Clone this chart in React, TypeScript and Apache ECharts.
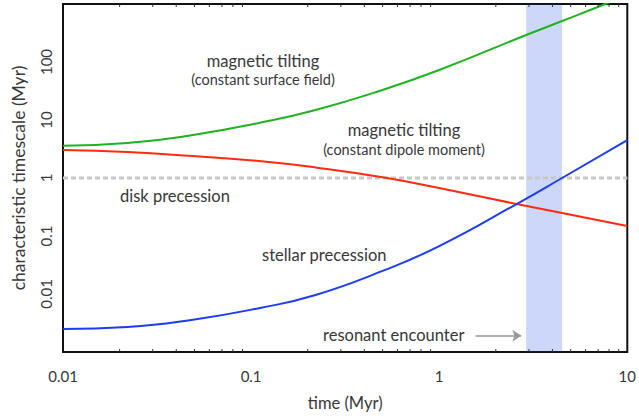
import React, { useEffect, useRef } from "react";
import * as echarts from "echarts";

// time (Myr)
const greenTimes = [0.01, 0.022, 0.049, 0.11, 0.22, 0.5, 1.0, 2.9, 4.5, 7.4, 10];
const greenValues = [3.6, 4.0, 5.5, 8.9, 14.9, 33, 72.8, 292, 509, 961, 1450];

const redTimes = [0.01, 0.022, 0.049, 0.11, 0.22, 0.5, 1.0, 2.58, 4.5, 10];
const redValues = [3.04, 2.81, 2.39, 1.96, 1.52, 1.03, 0.67, 0.356, 0.249, 0.149];

const blueTimes = [0.01, 0.022, 0.049, 0.11, 0.22, 0.5, 1.0, 2.58, 4.5, 10];
const blueValues = [0.0025, 0.0027, 0.0036, 0.0057, 0.0096, 0.025, 0.067, 0.356, 1.0, 4.5];

const diskTimes = [0.01, 10];
const diskValues = [1, 1];

const resonantBand = [2.9, 4.5];
const arrowFrom = [1.56, 0.0019];
const arrowTo = [2.73, 0.0019];

const minorTicks = [
  0.02, 0.03, 0.04, 0.05, 0.06, 0.07, 0.08, 0.09,
  0.2, 0.3, 0.4, 0.5, 0.6, 0.7, 0.8, 0.9,
  2, 3, 4, 5, 6, 7, 8, 9,
];

const xTickLabels: Record<number, string> = { [-2]: "0.01", [-1]: "0.1", 0: "1", 1: "10" };
const yTickLabels: Record<number, string> = { [-2]: "0.01", [-1]: "0.1", 0: "1", 1: "10", 2: "100" };

const FONT = "Lato, 'Open Sans', sans-serif";
const TXT = "#383838";

const pairs = (xs: number[], ys: number[]) => xs.map((x, i) => [x, ys[i]]);

export default function App() {
  const ref = useRef<HTMLDivElement>(null);
  useEffect(() => {
    if (!ref.current) return;
    const chart = echarts.init(ref.current, undefined, { renderer: "svg" });
    const lineBase = {
      type: "line" as const,
      symbol: "none",
      smooth: 0.5,
      clip: true,
    };
    const t16 = `16.5px ${FONT}`;
    const t14 = `14.5px ${FONT}`;
    chart.setOption({
      animation: false,
      backgroundColor: "#ffffff",
      textStyle: { fontFamily: FONT },
      grid: {
        left: 63,
        top: 4,
        right: 11,
        bottom: 66,
        show: true,
        borderColor: "#111",
        borderWidth: 2,
        backgroundColor: "transparent",
      },
      xAxis: {
        type: "log",
        logBase: 10,
        min: 0.01,
        max: 10,
        splitNumber: 3,
        axisLine: { show: false },
        axisTick: { show: false },
        splitLine: { show: false },
        axisLabel: {
          margin: 16,
          color: TXT,
          fontSize: 15,
          fontFamily: FONT,
          formatter: (v: number) => xTickLabels[Math.round(Math.log10(v))] ?? "",
        },
        name: "time (Myr)",
        nameLocation: "middle",
        nameGap: 42,
        nameTextStyle: { color: TXT, fontSize: 16.5, fontFamily: FONT },
      },
      yAxis: {
        type: "log",
        logBase: 10,
        min: 0.001,
        max: 1000,
        splitNumber: 6,
        axisLine: { show: false },
        axisTick: { show: false },
        splitLine: { show: false },
        axisLabel: {
          rotate: 90,
          margin: 10,
          color: TXT,
          fontSize: 15,
          fontFamily: FONT,
          formatter: (v: number) => yTickLabels[Math.round(Math.log10(v))] ?? "",
        },
        name: "characteristic timescale (Myr)",
        nameLocation: "middle",
        nameRotate: 90,
        nameGap: 36,
        nameTextStyle: { color: TXT, fontSize: 17.5, fontFamily: FONT },
      },
      graphic: [
        { type: "text", x: 263, y: 61, style: { text: "magnetic tilting", font: t16, fill: TXT, align: "center", verticalAlign: "middle" } },
        { type: "text", x: 263, y: 79, style: { text: "(constant surface field)", font: t14, fill: TXT, align: "center", verticalAlign: "middle" } },
        { type: "text", x: 404, y: 130, style: { text: "magnetic tilting", font: t16, fill: TXT, align: "center", verticalAlign: "middle" } },
        { type: "text", x: 404, y: 149, style: { text: "(constant dipole moment)", font: t14, fill: TXT, align: "center", verticalAlign: "middle" } },
        { type: "text", x: 120, y: 196, style: { text: "disk precession", font: t16, fill: TXT, align: "left", verticalAlign: "middle" } },
        { type: "text", x: 262, y: 255, style: { text: "stellar precession", font: t16, fill: TXT, align: "left", verticalAlign: "middle" } },
        { type: "text", x: 323, y: 335, style: { text: "resonant encounter", font: t16, fill: TXT, align: "left", verticalAlign: "middle" } },
      ],
      series: [
        {
          ...lineBase,
          name: "disk precession",
          smooth: false,
          data: pairs(diskTimes, diskValues),
          lineStyle: { color: "#c8c8c8", width: 3, type: [5, 3] },
          z: 1,
        },
        {
          ...lineBase,
          name: "magnetic tilting (constant surface field)",
          data: pairs(greenTimes, greenValues),
          lineStyle: { color: "#1fb31f", width: 2 },
          z: 2,
        },
        {
          ...lineBase,
          name: "magnetic tilting (constant dipole moment)",
          data: pairs(redTimes, redValues),
          lineStyle: { color: "#ff2a12", width: 2 },
          z: 2,
        },
        {
          ...lineBase,
          name: "stellar precession",
          data: pairs(blueTimes, blueValues),
          lineStyle: { color: "#1c3cf5", width: 2 },
          z: 2,
        },
        {
          type: "line",
          name: "resonant encounter",
          data: [],
          z: 5,
          markArea: {
            silent: true,
            itemStyle: { color: "rgba(5,55,230,0.2)", borderWidth: 0 },
            label: { show: false },
            data: [[{ xAxis: resonantBand[0] }, { xAxis: resonantBand[1] }]],
          },
        },
        {
          type: "line",
          name: "arrow",
          data: [],
          z: 5,
          markLine: {
            silent: true,
            symbol: ["none", "arrow"],
            symbolSize: 9,
            label: { show: false },
            itemStyle: { color: "#999999" },
            lineStyle: { color: "#999999", width: 1.5, type: "solid" },
            data: [[{ coord: arrowFrom }, { coord: arrowTo }]],
          },
        },
        {
          type: "custom",
          name: "minor ticks",
          silent: true,
          z: 6,
          data: minorTicks.map((t) => [t, 1]),
          encode: { x: 0, y: 1 },
          renderItem: (params: any, api: any) => {
            const x = api.coord([api.value(0), 1])[0];
            const cs = params.coordSys;
            const top = cs.y;
            const bottom = cs.y + cs.height;
            return {
              type: "group",
              children: [
                { type: "line", shape: { x1: x, y1: top, x2: x, y2: top + 3 }, style: { stroke: "#333", lineWidth: 1 } },
                { type: "line", shape: { x1: x, y1: bottom, x2: x, y2: bottom - 3 }, style: { stroke: "#333", lineWidth: 1 } },
              ],
            };
          },
        },
      ],
    });
    return () => chart.dispose();
  }, []);
  return (
    <div
      ref={ref}
      style={{ position: "absolute", left: 0, top: 0, width: 639, height: 418 }}
    />
  );
}
